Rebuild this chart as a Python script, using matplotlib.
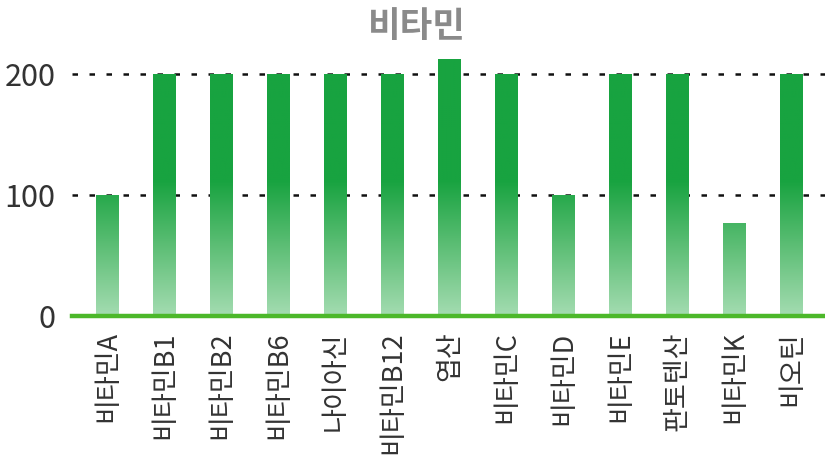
import numpy as np
import matplotlib.pyplot as plt
from matplotlib.colors import LinearSegmentedColormap

plt.rcParams['font.family'] = ['Noto Sans CJK KR', 'DejaVu Sans']

# data
vitamins = ['비타민A', '비타민B1', '비타민B2', '비타민B6', '나이아신', '비타민B12', '엽산',
            '비타민C', '비타민D', '비타민E', '판토텐산', '비타민K', '비오틴']
percent = [100, 200, 200, 200, 200, 200, 212, 200, 100, 200, 200, 77, 200]
yticks = [0, 100, 200]

fig = plt.figure(figsize=(8.25, 4.62), dpi=100)
ax = fig.add_axes([72 / 825, 1 - 316 / 462, 1 - 72 / 825, (316 - 49.8) / 462])

x = np.arange(len(vitamins))
bars = ax.bar(x, percent, width=0.4, color='none', edgecolor='none', zorder=2)

# vertical gradient: light at 0, full green from ~110 upward
cmap = LinearSegmentedColormap.from_list('g', ['#a4dcb1', '#5fbf77', '#18a340'])
ys = np.linspace(0, 220, 400)
grad = np.clip(ys / 112, 0, 1)[:, None]
for b in bars:
    im = ax.imshow(grad, cmap=cmap, vmin=0, vmax=1, origin='lower', aspect='auto',
                   extent=(b.get_x(), b.get_x() + b.get_width(), 0, 220), zorder=2)
    im.set_clip_path(b)

ax.set_xlim(-0.62, len(vitamins) - 1 + 0.59)
ax.set_ylim(0, 220)

for t in [100, 200]:
    ax.axhline(t, color='#111111', lw=1.8, ls=(0, (2.2, 4.6)), zorder=1)
ax.axhline(0, color='#4cb82a', lw=3.2, zorder=3, clip_on=False)

ax.set_yticks(yticks)
ax.set_yticklabels([str(v) for v in yticks], fontsize=22, color='#333333')
ax.set_xticks(x)
ax.set_xticklabels(vitamins, rotation=90, fontsize=19.5, color='#333333', va='top')
ax.tick_params(axis='y', length=0, pad=12)
ax.tick_params(axis='x', length=0, pad=11)
for s in ax.spines.values():
    s.set_visible(False)

fig.text(417 / 825, 1 - 27 / 462, '비타민', ha='center', va='center',
         fontsize=25.5, fontweight='bold', color='#8a8a8a')

fig.savefig('out.png', dpi=100)
